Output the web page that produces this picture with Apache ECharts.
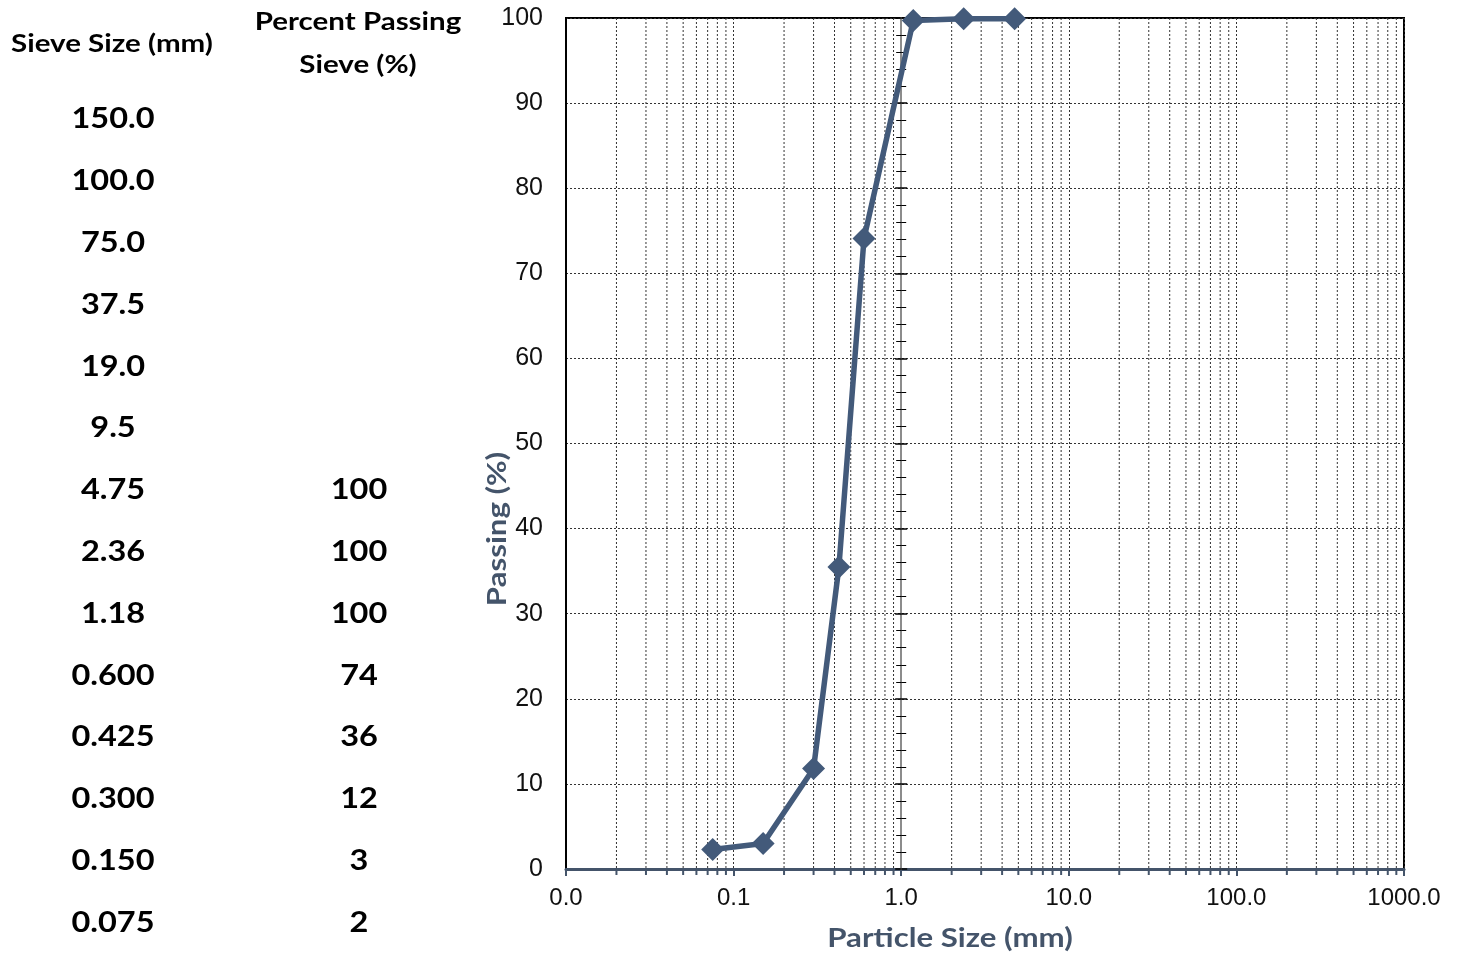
<!DOCTYPE html>
<html>
<head>
<meta charset="utf-8">
<script src="https://cdn.jsdelivr.net/npm/echarts@6/dist/echarts.min.js"></script>
<style>
html,body{margin:0;padding:0;background:#fff;}
#chart{width:1461px;height:957px;}
</style>
</head>
<body>
<div id="chart"></div>
<script>
// ---- Data ----
const tableSieveSizes = ['150.0','100.0','75.0','37.5','19.0','9.5','4.75','2.36','1.18','0.600','0.425','0.300','0.150','0.075'];
const tablePercentPassing = ['','','','','','','100','100','100','74','36','12','3','2'];
const sieveSizes = [4.75, 2.36, 1.18, 0.600, 0.425, 0.300, 0.150, 0.075];
const percentPassing = [99.9, 99.9, 99.7, 74.1, 35.5, 11.8, 3.0, 2.3];
const xDecades = [0.01, 0.1, 1, 10, 100];
const minorMultipliers = [2, 3, 4, 5, 6, 7, 8, 9];

// ---- Styling ----
const SLATE = '#44546A';
const LINE_COLOR = '#435A7A';
const TXT_FONT = 'Lato';

const minorValues = [];
xDecades.forEach(d => minorMultipliers.forEach(m => minorValues.push([m * d, 0])));

const chart = echarts.init(document.getElementById('chart'), null, {renderer: 'canvas'});

const rowTop = 119, rowStep = 61.8;
const graphics = [];
const headFont = 'bold 25px ' + TXT_FONT;
const cellFont = 'bold 29px ' + TXT_FONT;
graphics.push({type:'text', x:112, y:44, scaleX:1.18, style:{text:'Sieve Size (mm)', font:headFont, fill:'#000', align:'center', verticalAlign:'middle'}});
graphics.push({type:'text', x:358, y:22, scaleX:1.18, style:{text:'Percent Passing', font:headFont, fill:'#000', align:'center', verticalAlign:'middle'}});
graphics.push({type:'text', x:358, y:65, scaleX:1.18, style:{text:'Sieve (%)', font:headFont, fill:'#000', align:'center', verticalAlign:'middle'}});
tableSieveSizes.forEach((s, i) => {
  graphics.push({type:'text', x:113, y:rowTop + i * rowStep, scaleX:1.12, style:{text:s, font:cellFont, fill:'#000', align:'center', verticalAlign:'middle'}});
  if (tablePercentPassing[i]) {
    graphics.push({type:'text', x:359, y:rowTop + i * rowStep, scaleX:1.12, style:{text:tablePercentPassing[i], font:cellFont, fill:'#000', align:'center', verticalAlign:'middle'}});
  }
});
graphics.push({type:'text', x:950, y:939, scaleX:1.2, style:{text:'Particle Size (mm)', font:'bold 26px ' + TXT_FONT, fill:SLATE, align:'center', verticalAlign:'middle'}});
graphics.push({type:'text', x:498, y:529, rotation:Math.PI/2, scaleX:1.2, style:{text:'Passing (%)', font:'bold 26px ' + TXT_FONT, fill:SLATE, align:'center', verticalAlign:'middle'}});

const innerYAxis = (inside) => ({
  type:'value', min:0, max:100, interval:10, position:'left', offset:0,
  axisLine:{show:true, lineStyle:{color:'#8c8c8c', width:2}},
  axisTick:{show:true, inside:inside, length:6, lineStyle:{color:'#000', width:1.5}},
  minorTick:{show:true, splitNumber:5, length:5, lineStyle:{color:'#000', width:1}},
  axisLabel:{show:false}, splitLine:{show:false}, z:3
});

chart.setOption({
  animation:false,
  backgroundColor:'#fff',
  grid:{left:566, right:57, top:18, bottom:88, show:true, borderColor:'#000', borderWidth:2, backgroundColor:'transparent'},
  xAxis:{
    type:'log', logBase:10, min:0.01, max:1000,
    axisLine:{show:true, onZero:false, lineStyle:{color:SLATE, width:3}},
    axisTick:{show:true, length:7, lineStyle:{color:SLATE, width:2}},
    axisLabel:{formatter:v => Number(v).toFixed(1), fontFamily:'Liberation Sans', fontSize:24, color:'#111', margin:17},
    splitLine:{show:true, lineStyle:{color:'#333', width:1, type:[2,2]}}
  },
  yAxis:[
    {type:'value', min:0, max:100, interval:10, position:'left',
     axisLine:{show:true, lineStyle:{color:'#000', width:2}},
     axisTick:{show:false},
     axisLabel:{fontFamily:'Liberation Sans', fontSize:25, color:'#111', margin:23},
     splitLine:{show:true, lineStyle:{color:'#333', width:1, type:[2,2]}}},
    innerYAxis(true),
    innerYAxis(false)
  ],
  graphic:graphics,
  series:[
    {
      type:'custom', name:'minorGrid', silent:true, clip:false, z:1,
      xAxisIndex:0, yAxisIndex:0,
      data:minorValues, encode:{x:0, y:1},
      renderItem:function(params, api){
        const v = api.value(0);
        const top = api.coord([v, 100]);
        const bot = api.coord([v, 0]);
        return {type:'group', children:[
          {type:'line', shape:{x1:top[0], y1:top[1], x2:bot[0], y2:bot[1]}, style:{stroke:'#333', lineWidth:1, lineDash:[2,2]}},
          {type:'line', shape:{x1:bot[0], y1:bot[1], x2:bot[0], y2:bot[1] + 6}, style:{stroke:SLATE, lineWidth:2}}
        ]};
      }
    },
    {
      type:'line', name:'Passing', xAxisIndex:0, yAxisIndex:0, z:5,
      data:sieveSizes.map((s, i) => [s, percentPassing[i]]),
      lineStyle:{color:LINE_COLOR, width:5.5},
      itemStyle:{color:LINE_COLOR},
      symbol:'diamond', symbolSize:23, showSymbol:true, clip:false
    }
  ]
});

// Place the inner y axis at x = 1.0 (axis crossing), computed through the x scale.
const pxStart = chart.convertToPixel({xAxisIndex:0}, 0.01);
const pxOne = chart.convertToPixel({xAxisIndex:0}, 1);
const off = -(pxOne - pxStart);
chart.setOption({yAxis:[{}, {offset:off}, {offset:off}]});
</script>
</body>
</html>
